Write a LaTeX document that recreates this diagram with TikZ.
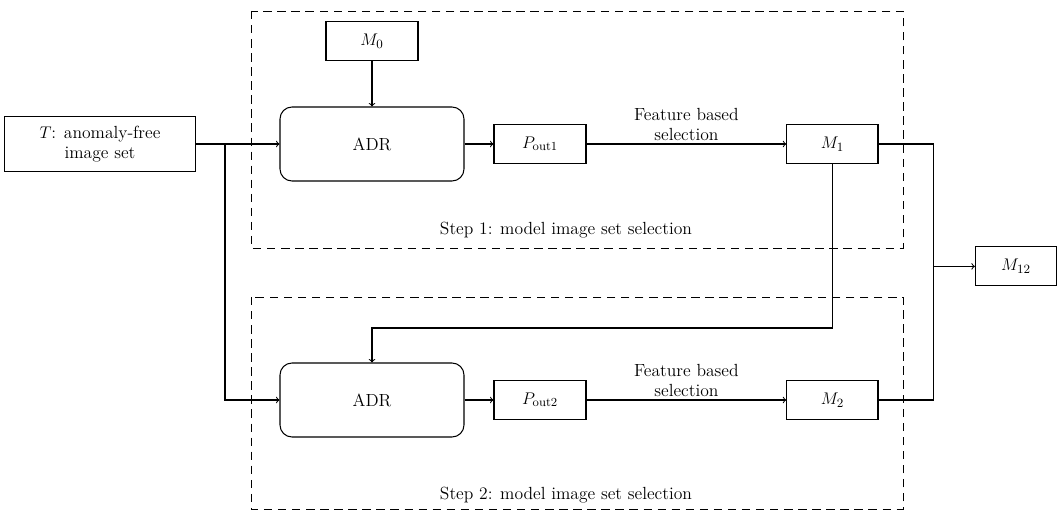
\documentclass[tikz,border=0pt]{standalone}
\usepackage{amsmath}
\usepackage{tikz}
\usetikzlibrary{arrows,positioning,calc}

\begin{document}
\begin{tikzpicture}[
    font=\fontsize{12.5}{14}\selectfont,
    box/.style={rectangle, draw, line width=0.75pt, minimum width=2.3cm, minimum height=0.975cm, text centered, inner sep=1pt},
    adrbox/.style={rectangle, draw, line width=0.75pt, rounded corners=0.3cm, minimum width=4.6cm, minimum height=1.85cm, text centered},
    stage/.style={draw, dash pattern=on 6pt off 4pt, line width=0.65pt},
    line/.style={line width=0.75pt},
    arrow/.style={->, line width=0.75pt, >=to}
]
\useasboundingbox (0,0) rectangle (26.5,-12.8);

% Step frames
\draw[stage] (6.275,-0.275) rectangle (22.575,-6.2);
\draw[stage] (6.275,-7.425) rectangle (22.575,-12.725);
\node (step1) at (14.15,-5.75) {Step 1: model image set selection};
\node (step2) at (14.15,-12.38) {Step 2: model image set selection};

% Input
\node[box, minimum width=4.78cm, minimum height=1.375cm, align=center] (tset) at (2.5,-3.6) {$T$: anomaly-free\\image set};

% Step 1
\node[box] (m0) at (9.3,-1.025) {$M_0$};
\node[adrbox] (adr1) at (9.3,-3.6) {ADR};
\node[box] (pout1) at (13.5,-3.6) {$P_{\text{out1}}$};
\node[box, minimum width=2.28cm] (m1) at (20.81,-3.6) {$M_1$};

% Step 2
\node[adrbox] (adr2) at (9.3,-10) {ADR};
\node[box] (pout2) at (13.5,-10) {$P_{\text{out2}}$};
\node[box, minimum width=2.28cm] (m2) at (20.81,-10) {$M_2$};

% Output
\node[box, minimum width=2.03cm] (m12) at (25.4,-6.66) {$M_{12}$};

% Helper points
\coordinate (split) at (5.625,-3.6);
\coordinate (back) at (0,-8.2);
\coordinate (join) at (23.33,0);

% Connections
\draw[arrow] (tset.east) -- (adr1.west);
\draw[arrow] (split) |- (adr2.west);
\draw[arrow] (m0) -- (adr1);
\draw[arrow] (adr1) -- (pout1);
\draw[arrow] (pout1) -- node[above, align=center, inner sep=2pt] {Feature based\\selection} (m1);
\draw[arrow] (m1.south) -- (m1.south |- back) -| (adr2.north);
\draw[arrow] (adr2) -- (pout2);
\draw[arrow] (pout2) -- node[above, align=center, inner sep=2pt] {Feature based\\selection} (m2);
\draw[line] (m1.east) -| (join |- m2.east) -- (m2.east);
\draw[arrow] (join |- m12.west) -- (m12.west);

\end{tikzpicture}
\end{document}
